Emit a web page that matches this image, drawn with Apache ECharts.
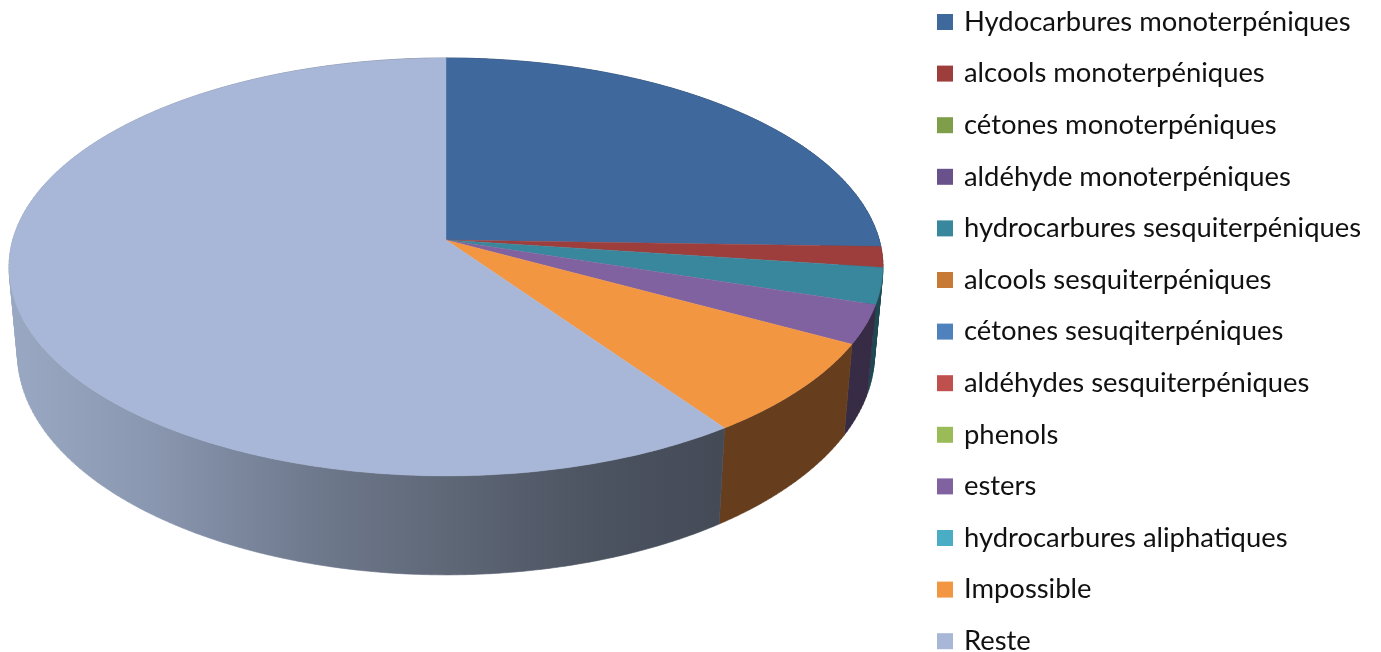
<!DOCTYPE html>
<html><head><meta charset="utf-8">
<style>html,body{margin:0;padding:0;background:#fff}#c{width:1381px;height:652px}</style>
<script src="https://cdn.jsdelivr.net/npm/echarts@6/dist/echarts.min.js"></script>
</head><body><div id="c"></div>
<script>
const categories = ['Hydocarbures monoterpéniques','alcools monoterpéniques','cétones monoterpéniques','aldéhyde monoterpéniques','hydrocarbures sesquiterpéniques','alcools sesquiterpéniques','cétones sesuqiterpéniques','aldéhydes sesquiterpéniques','phenols','esters','hydrocarbures aliphatiques','Impossible','Reste'];
const values = [25.5,1.6,0,0,2.8,0,0,0,0,3.0,0,7.35,59.75];
const colors = ['#3F689C','#9E3E3C','#7F9E49','#69518B','#39879C','#C67A33','#4F81BD','#C0504D','#9BBB59','#8062A0','#4BACC6','#F39642','#A8B7D7'];
const wallColors = ['#263E5E','#5E2524','#4C5F2C','#3F3153','#1E4A54','#774920','#2F4D71','#73302E','#5D7035','#372C45','#2D6777','#663E1E',null];

const top3d = {cx:446, cy:240, A:433.3, B:205.5, k:-0.129};
const bottom3d = {cx:446, cy:324.6, A:425, B:218, k:-0.129};
function project(p, frac){
  const t = frac*2*Math.PI, X = Math.sin(t), Y = -Math.cos(t), d = 1+p.k*Y;
  return [p.cx + p.A*X/d, p.cy + p.B*Y/d];
}
function arc(p, a, b){
  const n = Math.max(2, Math.ceil((b-a)*360)), pts = [];
  for(let i=0;i<=n;i++) pts.push(project(p, a+(b-a)*i/n));
  return pts;
}
function quadPath(q){
  let area = 0;
  q.forEach((p,i)=>{const r=q[(i+1)%4]; area += p[0]*r[1]-r[0]*p[1];});
  const o = area<0 ? q.slice().reverse() : q;
  return 'M'+o.map(p=>p[0].toFixed(2)+' '+p[1].toFixed(2)).join('L')+'Z';
}
const total = values.reduce((s,v)=>s+v,0);
const starts = []; values.reduce((s,v,i)=>{starts[i]=s;return s+v;},0);

const restWall = {type:'linear',x:8,y:0,x2:725,y2:0,global:true,colorStops:[
  {offset:0,color:'#9AA9C3'},{offset:0.2,color:'#8A97B0'},{offset:0.42,color:'#6F7A8E'},
  {offset:0.62,color:'#5E6776'},{offset:0.82,color:'#4C5361'},{offset:1,color:'#444A56'}]};

function render(i){
  return function(params, api){
    const v = api.value(0);
    if(!v) return null;
    const a = starts[i]/total, b = a + v/total;
    const t = arc(top3d,a,b), w = arc(bottom3d,a,b), fill = wallColors[i]||restWall;
    let d = '';
    for(let j=0;j<t.length-1;j++) d += quadPath([t[j],t[j+1],w[j+1],w[j]]);
    return {type:'group',children:[
      {type:'path',z2:1,silent:true,shape:{pathData:d},style:{fill,stroke:fill,lineWidth:0.6}},
      {type:'polygon',z2:5,silent:true,shape:{points:[[top3d.cx,top3d.cy]].concat(t)},
       style:{fill:colors[i],stroke:colors[i],lineWidth:0.4}}
    ]};
  };
}

const chart = echarts.init(document.getElementById('c'),null,{renderer:'canvas'});
chart.setOption({
  animation:false,
  backgroundColor:'#fff',
  color:colors,
  tooltip:{show:false},
  legend:{
    orient:'vertical',left:937,top:8.5,padding:0,height:700,
    itemWidth:16,itemHeight:16,itemGap:24.6,icon:'rect',
    selectedMode:false,
    textStyle:{fontFamily:'Lato',fontSize:27.4,color:'#111',padding:[0,0,0,6]},
    data:categories
  },
  series:categories.map((name,i)=>({
    type:'custom',name,coordinateSystem:'none',
    itemStyle:{color:colors[i]},
    data:[[values[i]]],
    renderItem:render(i)
  }))
});
</script></body></html>
